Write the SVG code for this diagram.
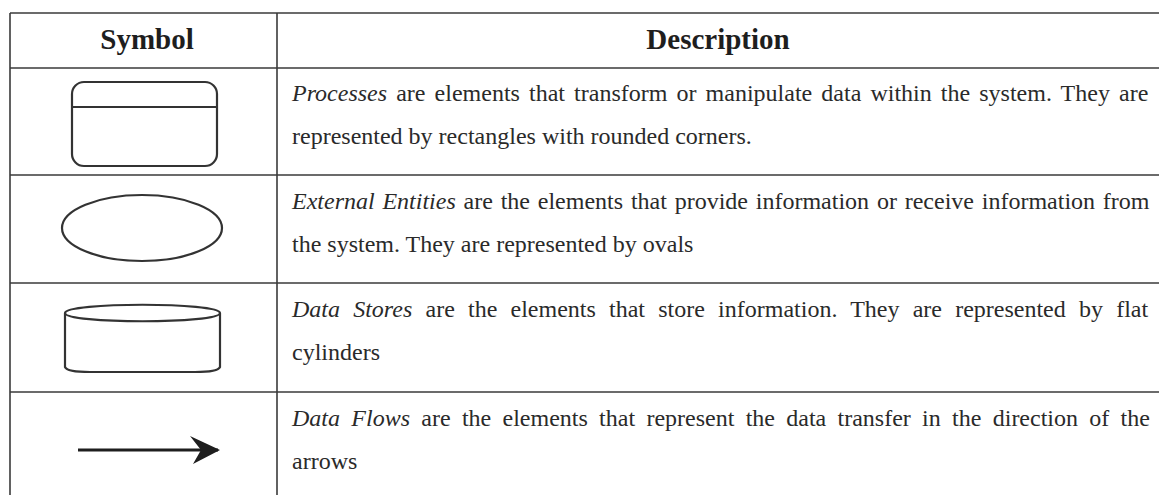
<svg xmlns="http://www.w3.org/2000/svg" width="1159" height="495" viewBox="0 0 1159 495">
  <style>
    .rule { stroke: #3a3a3a; stroke-width: 1.6; fill: none; }
    .sym { stroke: #333; stroke-width: 2.2; fill: none; }
    .head { font-family: "Liberation Serif", "Times New Roman", serif; font-weight: bold; font-size: 29px; fill: #1e1e1e; text-anchor: middle; }
    .body { font-family: "Liberation Serif", "Times New Roman", serif; font-size: 24px; fill: #2a2a2a; }
    .term { font-style: italic; }
  </style>
  <defs>
    <marker id="flowHead" viewBox="0 0 30 28" refX="28" refY="14" markerWidth="30" markerHeight="28" markerUnits="userSpaceOnUse" orient="auto">
      <path d="M0,0 L30,14 L3,28 L11,14 Z" fill="#1e1e1e"/>
    </marker>
  </defs>
  <rect width="1159" height="495" fill="#ffffff"/>

  <!-- table rules -->
  <g id="table-grid">
    <line class="rule" x1="10" y1="13" x2="1159" y2="13"/>
    <line class="rule" x1="10" y1="68" x2="1159" y2="68"/>
    <line class="rule" x1="10" y1="175" x2="1159" y2="175"/>
    <line class="rule" x1="10" y1="283" x2="1159" y2="283"/>
    <line class="rule" x1="10" y1="392" x2="1159" y2="392"/>
    <line class="rule" x1="10" y1="13" x2="10" y2="495"/>
    <line class="rule" x1="277" y1="13" x2="277" y2="495"/>
  </g>

  <!-- header -->
  <g id="header">
    <text class="head" x="147" y="49">Symbol</text>
    <text class="head" x="718" y="49">Description</text>
  </g>

  <!-- process symbol -->
  <g id="process">
    <rect class="sym" x="72" y="82" width="145" height="84" rx="12" ry="12"/>
    <line class="sym" x1="72" y1="107" x2="217" y2="107"/>
    <text class="body" x="292" y="101" style="word-spacing:3.1px"><tspan class="term">Processes</tspan> are elements that transform or manipulate data within the system. They are</text>
    <text class="body" x="292" y="144">represented by rectangles with rounded corners.</text>
  </g>

  <!-- external entity symbol -->
  <g id="external-entity">
    <ellipse class="sym" cx="142" cy="228" rx="80" ry="33"/>
    <text class="body" x="292" y="209" style="word-spacing:1.8px"><tspan class="term">External Entities</tspan> are the elements that provide information or receive information from</text>
    <text class="body" x="292" y="252">the system. They are represented by ovals</text>
  </g>

  <!-- data store symbol -->
  <g id="data-store">
    <path class="sym" d="M65,313 C65,302 220,302 220,313 C220,324 65,324 65,313 Z"/>
    <path class="sym" d="M65,313 L65,367 Q67,372 90,372 L195,372 Q218,372 220,367 L220,313"/>
    <text class="body" x="292" y="317" style="word-spacing:7.2px"><tspan class="term">Data Stores</tspan> are the elements that store information. They are represented by flat</text>
    <text class="body" x="292" y="360">cylinders</text>
  </g>

  <!-- data flow symbol -->
  <g id="data-flow">
    <text class="body" x="292" y="426" style="word-spacing:5.3px"><tspan class="term">Data Flows</tspan> are the elements that represent the data transfer in the direction of the</text>
    <text class="body" x="292" y="469">arrows</text>
  </g>

  <g id="connectors">
    <line x1="78" y1="450" x2="218" y2="450" stroke="#1e1e1e" stroke-width="3.2" marker-end="url(#flowHead)"/>
  </g>
</svg>
